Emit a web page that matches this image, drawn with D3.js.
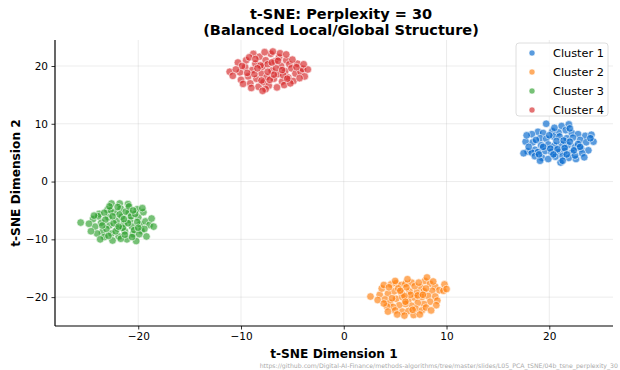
<!DOCTYPE html>
<html><head><meta charset="utf-8">
<script src="https://cdn.jsdelivr.net/npm/d3@7"></script>
<style>body{margin:0;background:#fff}svg{display:block;font-family:"DejaVu Sans",sans-serif}</style>
</head><body><svg id="c" width="620" height="370"></svg>
<script>
const clusterNames = ["Cluster 1","Cluster 2","Cluster 3","Cluster 4"];
const clusterColors = ["#0066cc","#ff7f0e","#2ca02c","#d62728"];
const xTicks = [-20,-10,0,10,20];
const yTicks = [-20,-10,0,10,20];
const cluster1 = [[19.7,10.0],[21.2,9.6],[21.9,9.9],[21.6,8.9],[20.9,8.5],[20.3,8.7],[18.9,8.6],[19.4,8.4],[18.3,8.2],[22.2,8.4],[22.8,8.2],[23.5,7.9],[24.1,8.1],[17.7,6.9],[18.4,6.8],[19.1,7.5],[19.7,7.4],[20.4,7.8],[21.0,7.8],[21.7,7.5],[22.3,7.6],[23.0,7.2],[23.6,6.8],[24.3,6.9],[17.9,5.2],[18.6,5.5],[19.2,6.3],[19.9,6.4],[20.5,6.2],[21.2,6.4],[21.8,6.3],[22.5,6.0],[23.1,5.7],[23.8,5.4],[17.5,4.9],[18.3,5.0],[18.9,5.1],[19.6,5.3],[20.2,5.1],[20.9,5.1],[21.5,5.3],[22.2,5.0],[23.2,4.9],[18.6,4.4],[19.3,4.1],[19.9,3.9],[20.6,4.3],[21.3,4.4],[21.9,4.1],[22.6,3.9],[23.4,4.2],[19.1,3.6],[21.1,3.3],[21.3,3.6],[22.5,4.5],[20.0,8.0],[20.7,7.0],[21.4,7.1],[22.0,6.9],[19.4,6.0],[20.1,5.7],[20.8,5.6],[21.5,5.8],[22.8,6.5],[18.7,7.2],[22.4,5.4],[20.4,4.7],[21.7,4.7],[19.0,4.7],[23.0,6.0],[22.0,9.2],[20.5,9.3],[18.0,6.0],[24.0,7.5],[17.8,8.0]];
const cluster2 = [[2.6,-19.9],[3.5,-19.6],[3.7,-18.5],[3.9,-17.9],[4.6,-17.8],[5.1,-17.6],[5.6,-17.9],[6.0,-17.7],[6.6,-17.5],[6.2,-16.9],[7.5,-18.3],[7.9,-17.2],[8.1,-16.6],[8.4,-17.7],[8.9,-18.2],[9.3,-18.8],[9.7,-18.9],[8.6,-18.9],[7.8,-19.0],[7.1,-19.2],[6.4,-19.0],[5.6,-19.2],[4.9,-19.0],[4.3,-19.4],[4.0,-20.4],[4.5,-21.0],[5.1,-20.3],[5.7,-20.0],[6.3,-20.5],[6.9,-20.1],[7.6,-20.0],[8.2,-19.8],[8.9,-19.9],[9.1,-20.6],[8.4,-20.8],[7.8,-21.2],[7.2,-21.0],[6.6,-21.5],[6.0,-21.2],[5.4,-21.4],[4.8,-21.7],[4.2,-21.6],[5.0,-22.3],[5.7,-22.5],[6.3,-22.4],[7.0,-22.0],[7.6,-22.3],[6.8,-23.1],[5.9,-23.2],[5.2,-23.0],[8.0,-21.8],[3.3,-20.5],[4.4,-18.3],[5.3,-18.5],[6.1,-18.3],[6.9,-18.1],[7.3,-17.5],[8.7,-17.3],[9.8,-17.8],[9.0,-21.4],[7.4,-23.0],[6.5,-19.6],[5.9,-19.8],[4.7,-20.2],[7.2,-19.7],[8.0,-18.5],[6.7,-22.2],[5.5,-18.9],[3.9,-21.1],[4.3,-22.5],[10.0,-18.6],[8.5,-22.3],[6.0,-20.8],[7.7,-19.6],[5.0,-17.2]];
const cluster3 = [[-25.6,-7.1],[-24.4,-6.5],[-24.2,-7.8],[-23.8,-5.6],[-23.6,-7.1],[-23.5,-8.7],[-23.3,-9.6],[-23.0,-4.9],[-22.9,-6.2],[-22.8,-7.6],[-22.6,-3.8],[-22.6,-9.0],[-22.5,-10.2],[-22.3,-5.3],[-22.1,-6.8],[-22.0,-8.1],[-21.9,-9.5],[-21.8,-3.8],[-21.7,-4.7],[-21.6,-6.1],[-21.4,-7.3],[-21.3,-8.6],[-21.1,-10.0],[-21.0,-3.9],[-20.9,-5.4],[-20.8,-6.7],[-20.6,-7.8],[-20.5,-9.1],[-20.2,-10.3],[-20.1,-4.8],[-20.0,-6.2],[-19.8,-7.4],[-19.7,-8.5],[-19.5,-5.3],[-19.3,-6.9],[-19.2,-9.5],[-18.9,-7.5],[-18.7,-6.4],[-24.0,-9.0],[-23.9,-6.0],[-23.1,-8.2],[-22.7,-5.0],[-22.4,-7.2],[-21.8,-5.7],[-21.5,-8.0],[-21.2,-5.2],[-20.7,-6.0],[-20.4,-8.4],[-19.9,-9.1],[-20.3,-5.6],[-22.0,-4.4],[-23.3,-5.4],[-24.6,-8.6],[-22.9,-9.4],[-21.7,-9.9],[-20.9,-4.3],[-19.6,-4.6],[-24.8,-7.3],[-23.7,-10.0],[-21.0,-7.2],[-22.2,-8.6],[-20.1,-7.0],[-19.4,-8.2],[-21.4,-6.5],[-23.2,-6.6],[-22.5,-6.0],[-20.6,-9.6],[-24.3,-5.9],[-21.9,-7.8],[-20.5,-5.0],[-18.5,-7.8],[-22.8,-4.3],[-21.3,-9.2],[-23.5,-7.6],[-20.0,-8.0]];
const cluster4 = [[-11.1,19.0],[-10.3,20.6],[-10.1,18.9],[-10.0,17.6],[-9.8,16.9],[-9.6,19.8],[-9.5,21.0],[-9.3,18.2],[-9.1,17.0],[-8.9,19.3],[-8.8,22.1],[-8.6,20.4],[-8.5,17.8],[-8.3,16.4],[-8.2,21.6],[-8.0,18.7],[-7.9,19.9],[-7.8,17.2],[-7.6,21.0],[-7.5,18.1],[-7.4,20.3],[-7.3,16.6],[-7.1,22.1],[-7.0,19.2],[-6.9,22.5],[-6.8,17.8],[-6.7,20.8],[-6.5,16.3],[-6.4,18.6],[-6.3,21.5],[-6.1,20.0],[-6.0,17.3],[-5.8,16.7],[-5.7,19.1],[-5.6,21.0],[-5.4,18.0],[-5.3,20.3],[-5.1,19.6],[-4.9,17.4],[-4.7,18.7],[-4.5,20.4],[-4.2,19.0],[-4.0,19.5],[-3.5,19.4],[-3.8,18.2],[-9.9,20.0],[-8.7,18.6],[-8.1,20.1],[-7.2,17.6],[-6.6,19.6],[-5.9,18.4],[-5.2,17.0],[-4.6,19.8],[-9.4,18.8],[-7.7,22.4],[-6.2,22.2],[-8.4,19.6],[-7.0,20.6],[-6.0,19.3],[-5.5,17.8],[-9.0,16.2],[-7.6,16.0],[-6.8,18.5],[-8.0,17.5],[-10.5,19.4],[-9.2,21.5],[-5.0,21.1],[-4.3,17.9],[-6.4,20.9],[-7.4,19.0],[-8.6,21.2],[-3.9,20.3],[-10.8,18.3],[-5.6,22.0],[-7.9,15.7]];
const clusters = [cluster1, cluster2, cluster3, cluster4];

const svg = d3.select("#c");
const L = 55, R = 613, T = 40, B = 326;
const x = d3.scaleLinear().domain([-28.1, 26.2]).range([L, R]);
const y = d3.scaleLinear().domain([-25.0, 24.5]).range([B, T]);

// grid
svg.append("g").selectAll("line").data(xTicks).join("line")
  .attr("x1", d => x(d)).attr("x2", d => x(d)).attr("y1", T).attr("y2", B)
  .attr("stroke", "#b0b0b0").attr("stroke-opacity", 0.3).attr("stroke-width", 0.8);
svg.append("g").selectAll("line").data(yTicks).join("line")
  .attr("y1", d => y(d)).attr("y2", d => y(d)).attr("x1", L).attr("x2", R)
  .attr("stroke", "#b0b0b0").attr("stroke-opacity", 0.3).attr("stroke-width", 0.8);

// points
clusters.forEach((pts, i) => {
  svg.append("g").selectAll("circle").data(pts).join("circle")
    .attr("cx", d => x(d[0])).attr("cy", d => y(d[1])).attr("r", 3.8)
    .attr("fill", clusterColors[i]).attr("fill-opacity", 0.65)
    .attr("stroke", "#fff").attr("stroke-width", 0.6);
});

// axes
const fmt = d => d < 0 ? "\u2212" + Math.abs(d) : d;
const xAxis = svg.append("g").attr("transform", `translate(0,${B})`)
  .call(d3.axisBottom(x).tickValues(xTicks).tickSize(3.5).tickPadding(3.5).tickFormat(fmt));
const yAxis = svg.append("g").attr("transform", `translate(${L},0)`)
  .call(d3.axisLeft(y).tickValues(yTicks).tickSize(3.5).tickPadding(3.5).tickFormat(fmt));
[xAxis, yAxis].forEach(a => {
  a.selectAll("text").attr("font-size", 10.5).attr("fill", "#000").attr("font-family", "DejaVu Sans");
  a.selectAll(".tick line").attr("stroke", "#000").attr("stroke-width", 0.8);
});
xAxis.select(".domain").attr("d", `M${L},0H${R}`).attr("stroke", "#000").attr("stroke-width", 1.2);
yAxis.select(".domain").attr("d", `M0,${T}V${B}`).attr("stroke", "#000").attr("stroke-width", 1.2);

// labels
const cx = (L + R) / 2;
svg.append("text").attr("x", 341).attr("y", 19).attr("text-anchor", "middle")
  .attr("font-size", 14.5).attr("font-weight", "bold").text("t-SNE: Perplexity = 30");
svg.append("text").attr("x", 341).attr("y", 35).attr("text-anchor", "middle")
  .attr("font-size", 14.5).attr("font-weight", "bold").text("(Balanced Local/Global Structure)");
svg.append("text").attr("x", cx).attr("y", 358).attr("text-anchor", "middle")
  .attr("font-size", 12.2).attr("font-weight", "bold").text("t-SNE Dimension 1");
svg.append("text").attr("transform", `translate(20,${(T + B) / 2}) rotate(-90)`).attr("text-anchor", "middle")
  .attr("font-size", 12.2).attr("font-weight", "bold").text("t-SNE Dimension 2");

// legend
const lg = svg.append("g");
lg.append("rect").attr("x", 516).attr("y", 43).attr("width", 92).attr("height", 73).attr("rx", 3)
  .attr("fill", "#fff").attr("fill-opacity", 0.85).attr("stroke", "#d5d5d5").attr("stroke-width", 0.8);
clusterNames.forEach((n, i) => {
  const yy = 53 + i * 19;
  lg.append("circle").attr("cx", 532).attr("cy", yy).attr("r", 3)
    .attr("fill", clusterColors[i]).attr("fill-opacity", 0.65).attr("stroke", "#fff").attr("stroke-width", 0.5);
  lg.append("text").attr("x", 553).attr("y", yy + 4).attr("font-size", 11.3).text(n);
});

// footer
svg.append("text").attr("x", 618).attr("y", 368).attr("text-anchor", "end")
  .attr("font-size", 6.2).attr("fill", "#aaa")
  .text("https://github.com/Digital-AI-Finance/methods-algorithms/tree/master/slides/L05_PCA_tSNE/04b_tsne_perplexity_30");
</script></body></html>
